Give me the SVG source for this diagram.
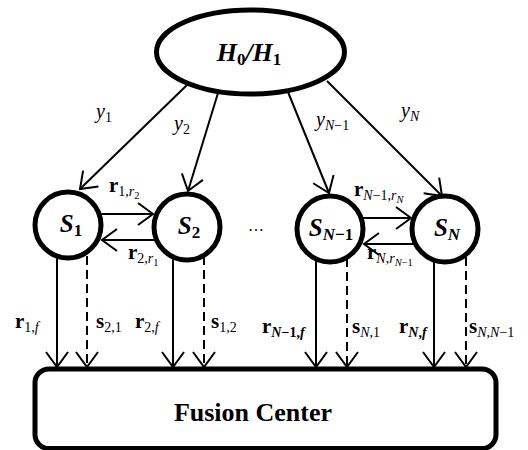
<svg xmlns="http://www.w3.org/2000/svg" width="528" height="450" viewBox="0 0 528 450">
<style>
.node{fill:#fff;stroke:#000;stroke-width:5}
.box{fill:#fff;stroke:#000;stroke-width:5}
.c{fill:none;stroke:#000;stroke-width:2}
.d{stroke-dasharray:9 5}
.t{font-family:"Liberation Serif","Times New Roman",serif;fill:#000}
.m{font-family:"Liberation Serif","Times New Roman",serif;font-style:italic;font-size:20px;fill:#000}
.b{font-family:"Liberation Serif","Times New Roman",serif;font-weight:bold;font-size:21px;fill:#000}
.s{font-size:14px}
.ss{font-size:10.5px}
.i{font-style:italic}
.n{font-weight:normal}
.bi{font-weight:bold;font-style:italic}
</style>
<defs>
<marker id="ah" viewBox="-17 -13 19 26" markerWidth="19" markerHeight="26" refX="0" refY="0" orient="auto" markerUnits="userSpaceOnUse">
<path d="M-15,-11 L0,0 L-15,11" fill="none" stroke="#000" stroke-width="2" stroke-dasharray="none"/>
</marker>
</defs>

<g id="hyp">
<ellipse class="node" cx="250.5" cy="52" rx="94" ry="42"/>
<text class="t" x="249" y="61" text-anchor="middle" font-size="26" font-weight="bold" font-style="italic">H<tspan font-size="17" dy="4" font-style="normal">0</tspan><tspan dy="-4">/H</tspan><tspan font-size="17" dy="4" font-style="normal">1</tspan></text>
</g>

<g id="s1">
<circle class="node" cx="68" cy="225" r="33"/>
<text class="t" x="71" y="232" text-anchor="middle" font-size="25" font-weight="bold" font-style="italic">S<tspan font-size="17" dy="4" font-style="normal">1</tspan></text>
</g>
<g id="s2">
<circle class="node" cx="187" cy="227" r="33"/>
<text class="t" x="189" y="234" text-anchor="middle" font-size="25" font-weight="bold" font-style="italic">S<tspan font-size="17" dy="4" font-style="normal">2</tspan></text>
</g>
<g id="sN1">
<circle class="node" cx="330" cy="229" r="33"/>
<text class="t" x="331" y="236" text-anchor="middle" font-size="25" font-weight="bold" font-style="italic">S<tspan font-size="17" dy="4">N</tspan><tspan font-size="17" font-style="normal">−1</tspan></text>
</g>
<g id="sN">
<circle class="node" cx="445" cy="229" r="33"/>
<text class="t" x="447" y="236" text-anchor="middle" font-size="25" font-weight="bold" font-style="italic">S<tspan font-size="17" dy="4">N</tspan></text>
</g>
<g id="fusion">
<rect class="box" x="35" y="369" width="461" height="79.5" rx="14"/>
<text class="t" x="253" y="421" text-anchor="middle" font-size="26" font-weight="bold">Fusion Center</text>
</g>

<text class="t" x="256" y="231" text-anchor="middle" font-size="16">…</text>

<g id="connectors">
<line class="c" x1="187" y1="85" x2="80" y2="189" marker-end="url(#ah)"/>
<line class="c" x1="218" y1="93" x2="188" y2="191" marker-end="url(#ah)"/>
<line class="c" x1="288" y1="92" x2="329" y2="193" marker-end="url(#ah)"/>
<line class="c" x1="327" y1="81" x2="442" y2="196" marker-end="url(#ah)"/>

<line class="c" x1="101" y1="214" x2="153" y2="214" marker-end="url(#ah)"/>
<line class="c" x1="156" y1="240" x2="102" y2="240" marker-end="url(#ah)"/>
<line class="c" x1="363" y1="218" x2="411" y2="218" marker-end="url(#ah)"/>
<line class="c" x1="413" y1="244" x2="364" y2="244" marker-end="url(#ah)"/>

<line class="c" x1="57" y1="257" x2="57" y2="367" marker-end="url(#ah)"/>
<line class="c d" x1="87" y1="256" x2="87" y2="367" marker-end="url(#ah)"/>
<line class="c" x1="173" y1="258" x2="173" y2="367" marker-end="url(#ah)"/>
<line class="c d" x1="204" y1="256" x2="204" y2="367" marker-end="url(#ah)"/>
<line class="c" x1="316" y1="260" x2="316" y2="367" marker-end="url(#ah)"/>
<line class="c d" x1="347" y1="258" x2="347" y2="367" marker-end="url(#ah)"/>
<line class="c" x1="434" y1="261" x2="434" y2="367" marker-end="url(#ah)"/>
<line class="c d" x1="466" y1="257" x2="466" y2="367" marker-end="url(#ah)"/>
</g>

<g id="labels">
<text class="m" x="96" y="118">y<tspan class="s" dy="4" font-style="normal">1</tspan></text>
<text class="m" x="174" y="130">y<tspan class="s" dy="4" font-style="normal">2</tspan></text>
<text class="m" x="316" y="126">y<tspan class="s" dy="4">N</tspan><tspan class="s" font-style="normal">−1</tspan></text>
<text class="m" x="401" y="117">y<tspan class="s" dy="4">N</tspan></text>

<text class="b" x="109" y="192">r<tspan class="s n" dy="4">1,</tspan><tspan class="s n i">r</tspan><tspan class="ss n" dy="3">2</tspan></text>
<text class="b" x="128" y="259">r<tspan class="s n" dy="4">2,</tspan><tspan class="s n i">r</tspan><tspan class="ss n" dy="3">1</tspan></text>
<text class="b" x="354" y="196">r<tspan class="s n i" dy="4">N</tspan><tspan class="s n">−1,</tspan><tspan class="s n i">r</tspan><tspan class="ss n i" dy="3">N</tspan></text>
<text class="b" x="367" y="259">r<tspan class="s n i" dy="4">N</tspan><tspan class="s n">,</tspan><tspan class="s n i">r</tspan><tspan class="ss n i" dy="3">N</tspan><tspan class="ss n">−1</tspan></text>

<text class="b" x="15" y="328">r<tspan class="s n" dy="4">1,</tspan><tspan class="s n i">f</tspan></text>
<text class="b" x="96" y="328">s<tspan class="s n" dy="4">2,1</tspan></text>
<text class="b" x="135" y="328">r<tspan class="s n" dy="4">2,</tspan><tspan class="s n i">f</tspan></text>
<text class="b" x="211" y="328">s<tspan class="s n" dy="4">1,2</tspan></text>
<text class="b" x="262" y="333">r<tspan class="s bi" dy="4">N</tspan><tspan class="s">−1,</tspan><tspan class="s bi">f</tspan></text>
<text class="b" x="352" y="333">s<tspan class="s n i" dy="4">N</tspan><tspan class="s n">,1</tspan></text>
<text class="b" x="399" y="333">r<tspan class="s bi" dy="4">N</tspan><tspan class="s">,</tspan><tspan class="s bi">f</tspan></text>
<text class="b" x="469" y="333">s<tspan class="s n i" dy="4">N</tspan><tspan class="s n">,</tspan><tspan class="s n i">N</tspan><tspan class="s n">−1</tspan></text>
</g>
</svg>
